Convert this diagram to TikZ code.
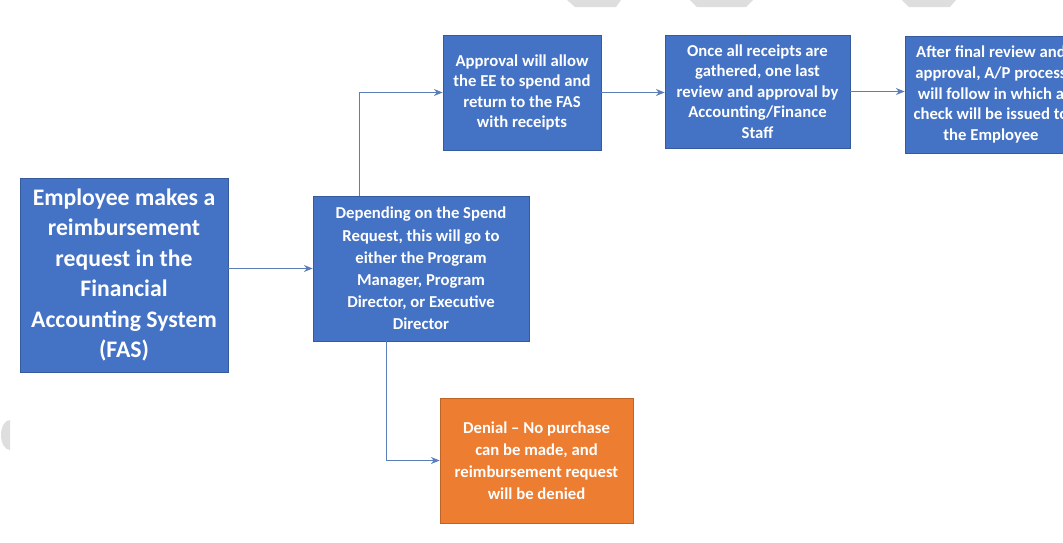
\documentclass[tikz,border=0pt]{standalone}
\usepackage{fontspec}
\setmainfont{Carlito}
\usepackage{xcolor}
\usepackage{tikz}
\usetikzlibrary{arrows.meta}
\usetikzlibrary{calc}
\definecolor{stepblue}{HTML}{4472C4}
\definecolor{denyorange}{HTML}{ED7D31}
\definecolor{linkblue}{HTML}{5B7DB8}
\definecolor{wmgray}{HTML}{DEDEDE}

\begin{document}
\begin{tikzpicture}[x=0.02cm, y=-0.02cm, every node/.style={rectangle, inner sep=0pt, align=center, text=white}, stepbox/.style={fill=stepblue, draw=stepblue!80!black, line width=0.4pt, font=\bfseries\fontsize{9.5}{11.7}\selectfont}, bigbox/.style={stepbox, font=\bfseries\fontsize{13.5}{17.4}\selectfont}, widebox/.style={stepbox, font=\bfseries\fontsize{9.5}{12.6}\selectfont}, denybox/.style={widebox, fill=denyorange, draw=denyorange!80!black}, link/.style={draw=linkblue, line width=0.6pt, -{Stealth[length=5pt, width=4pt]}}]
  \useasboundingbox (0,0) rectangle (1063,542);
  \fill[wmgray] (567,0) -- (621,0) -- (616,7) -- (575,7) -- cycle;
  \fill[wmgray] (690,0) -- (753,0) -- (746,7) -- (697,7) -- cycle;
  \fill[wmgray] (902,0) -- (956,0) -- (950,7) -- (909,7) -- cycle;
  \fill[wmgray] (10,420) arc[start angle=270, end angle=90, x radius=9, y radius=15] -- cycle;
  \node[bigbox, minimum width=4.16cm, minimum height=3.88cm] (request) at (124,275) {Employee makes a\\reimbursement\\request in the\\Financial\\Accounting System\\(FAS)};
  \node[widebox, minimum width=4.32cm, minimum height=2.9cm] (route) at (421,268.5) {Depending on the Spend\\Request, this will go to\\either the Program\\Manager, Program\\Director, or Executive\\Director};
  \node[stepbox, minimum width=3.16cm, minimum height=2.3cm] (approval) at (522,92.5) {Approval will allow\\the EE to spend and\\return to the FAS\\with receipts};
  \node[stepbox, minimum width=3.7cm, minimum height=2.26cm] (review) at (757.5,91.5) {Once all receipts are\\gathered, one last\\review and approval by\\Accounting/Finance\\Staff};
  \node[stepbox, minimum width=3.44cm, minimum height=2.34cm] (payment) at (991,94.5) {After final review and\\approval, A/P process\\will follow in which a\\check will be issued to\\the Employee};
  \node[denybox, minimum width=3.86cm, minimum height=2.5cm] (denial) at (536.5,460.5) {Denial -- No purchase\\can be made, and\\reimbursement request\\will be denied};
  \draw[link] (route.west -| request.east) -- (route.west);
  \draw[link] ($(route.north west)+(47,0)$) |- (approval.west);
  \draw[link] (approval.east) -- (approval.east -| review.west);
  \draw[link] (review.east) -- (review.east -| payment.west);
  \draw[link] ($(route.south west)+(74,0)$) |- (denial.west);
\end{tikzpicture}
\end{document}
